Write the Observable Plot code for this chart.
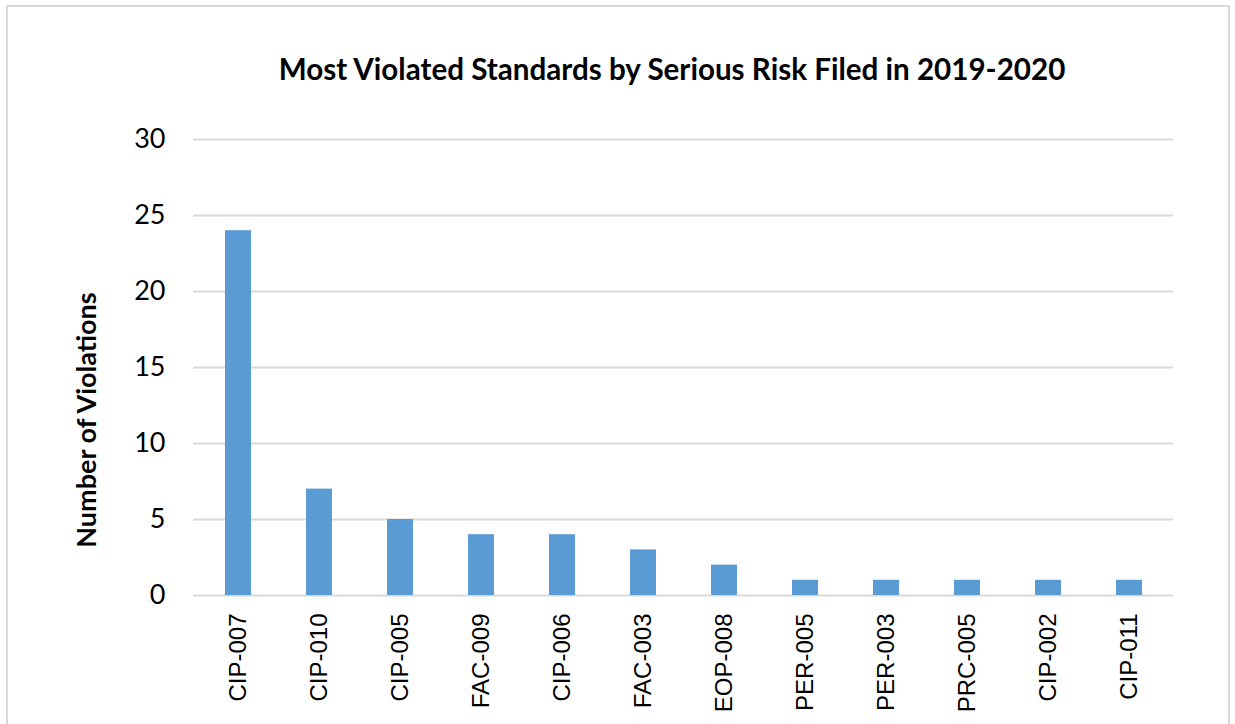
<!DOCTYPE html>
<html><head><meta charset="utf-8">
<script src="https://cdn.jsdelivr.net/npm/d3@7"></script>
<script src="https://cdn.jsdelivr.net/npm/@observablehq/plot@0.6"></script>
<style>
body{margin:0;background:#fff;}
#wrap{position:relative;width:1235px;height:724px;overflow:hidden;}
#frame{position:absolute;left:6px;top:5px;width:1224px;height:740px;border:2px solid #d9d9d9;box-sizing:border-box;}
#title{position:absolute;left:0;width:1344px;top:68px;transform:translateY(-50%);text-align:center;font:bold 29.6px Lato, "Open Sans", sans-serif;color:#000;white-space:nowrap;}
#ylab{position:absolute;left:85px;top:420px;transform:translate(-50%,-50%) rotate(-90deg);white-space:nowrap;font:bold 27px Lato, "Open Sans", sans-serif;color:#000;}
svg{position:absolute;left:0;top:0;}
</style></head>
<body><div id="wrap"><div id="frame"></div><div id="title">Most Violated Standards by Serious Risk Filed in 2019-2020</div><div id="ylab">Number of Violations</div></div>
<script>
const standards = ["CIP-007","CIP-010","CIP-005","FAC-009","CIP-006","FAC-003","EOP-008","PER-005","PER-003","PRC-005","CIP-002","CIP-011"];
const violations = [24,7,5,4,4,3,2,1,1,1,1,1];
const yTicks = [0,5,10,15,20,25,30];
const data = standards.map((s,i)=>({standard:s, count:violations[i]}));
const chart = Plot.plot({
  width:1235, height:724,
  marginLeft:193, marginRight:62, marginTop:139, marginBottom:129,
  style:{background:"transparent", fontFamily:"Lato, 'Open Sans', sans-serif", fontSize:"27px", color:"#000"},
  x:{domain:standards, paddingInner:0.68, paddingOuter:0.34, label:null},
  y:{domain:[0,30], label:null},
  marks:[
    Plot.ruleY(yTicks,{stroke:"#d9d9d9", strokeWidth:2}),
    Plot.barY(data,{x:"standard", y:"count", fill:"#5b9bd5"}),
    Plot.axisY({ticks:yTicks, tickSize:0, tickPadding:28, label:null, fontSize:27}),
    Plot.axisX({tickSize:0, tickRotate:-90, tickPadding:18, label:null, fontSize:24, fontFamily:"Liberation Sans, Arial, sans-serif"})
  ]
});
document.getElementById("wrap").appendChild(chart);
</script></body></html>
